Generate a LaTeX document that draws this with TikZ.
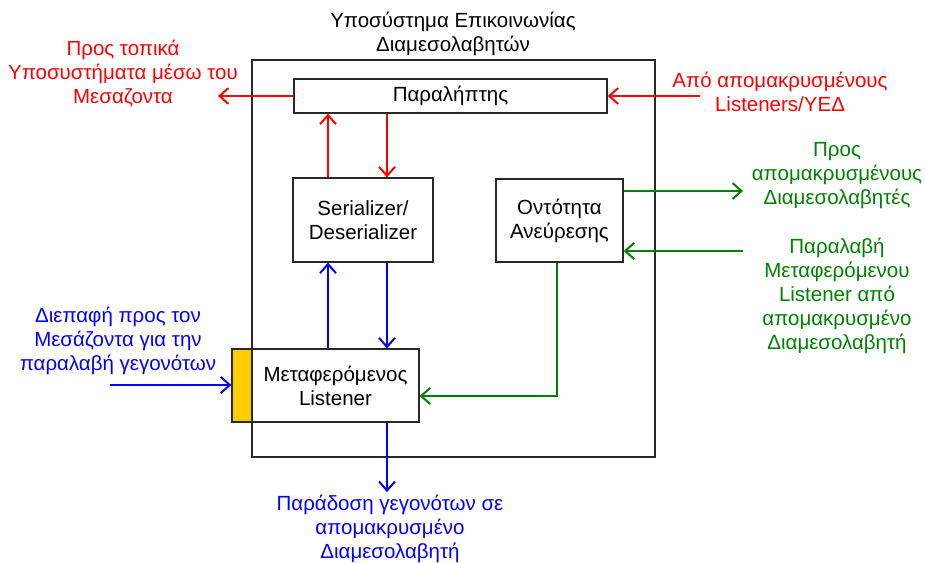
\documentclass[tikz,border=0pt]{standalone}
\usepackage{fontspec}
\setmainfont{Liberation Sans}
\usetikzlibrary{arrows.meta,calc}

\definecolor{rred}{RGB}{255,0,0}
\definecolor{bblue}{RGB}{0,0,255}
\definecolor{ggreen}{RGB}{0,128,0}
\definecolor{yel}{RGB}{255,204,0}
\definecolor{edge}{RGB}{40,40,40}

\tikzset{
  x=1pt, y=-1pt,
  every node/.style={font=\fontsize{20.5}{24}\selectfont, inner sep=0pt},
  block/.style={draw=edge, line width=1.3pt, fill=white, align=center},
  lbl/.style={align=center},
  flow/.style={line width=2pt, -{Straight Barb[length=9pt,width=16pt,line width=2pt]}},
}

\begin{document}
\begin{tikzpicture}
  \useasboundingbox (0,0) rectangle (925,562);

  % outer subsystem frame and its title
  \node[draw=edge, line width=1.3pt, minimum width=403pt, minimum height=397pt] (frame) at (453.5,258.5) {};
  \node[lbl] (title) at (453,34) {Υποσύστημα Επικοινωνίας\\Διαμεσολαβητών};

  % inner components
  \node[block, minimum width=313pt, minimum height=34pt] (recv) at (450.5,96) {Παραλήπτης};
  \node[block, minimum width=140pt, minimum height=84pt] (ser) at (363,220) {Serializer/\\Deserializer};
  \node[block, minimum width=127pt, minimum height=83pt] (disc) at (559.5,220.5) {Οντότητα\\Ανεύρεσης};
  \node[block, minimum width=167pt, minimum height=73pt] (mov) at (335.5,385.5) {Μεταφερόμενος\\Listener};
  \node[draw=edge, line width=1.3pt, fill=yel, minimum width=20pt, minimum height=73pt] (port) at (242,385.5) {};

  % external labels
  \node[lbl, text=rred] (tolocal) at (123,74) {Προς τοπικά\\Υποσυστήματα μέσω του\\Μεσαζοντα};
  \node[lbl, text=rred] (fromremote) at (780,92) {Από απομακρυσμένους\\Listeners/ΥΕΔ};
  \node[lbl, text=ggreen] (toremote) at (837,176) {Προς\\απομακρυσμένους\\Διαμεσολαβητές};
  \node[lbl, text=ggreen] (receive) at (837,296) {Παραλαβή\\Μεταφερόμενου\\Listener από\\απομακρυσμένο\\Διαμεσολαβητή};
  \node[lbl, text=bblue] (iface) at (118,341) {Διεπαφή προς τον\\Μεσάζοντα για την\\παραλαβή γεγονότων};
  \node[lbl, text=bblue] (deliver) at (390,529) {Παράδοση γεγονότων σε\\απομακρυσμένο\\Διαμεσολαβητή};

  % free connector ends
  \coordinate (lout) at (218,96);
  \coordinate (rin) at (700,96);
  \coordinate (gout) at (743,191);
  \coordinate (gin) at (743,251);
  \coordinate (bin) at (110,385);
  \coordinate (bout) at (387,492);

  % red: receiver traffic
  \draw[flow, rred] (recv.west) -- (lout);
  \draw[flow, rred] (rin) -- (recv.east);
  \draw[flow, rred] (ser.north -| 328,0) -- (recv.south -| 328,0);
  \draw[flow, rred] (recv.south -| 387,0) -- (ser.north -| 387,0);

  % blue: serializer and transferred listener
  \draw[flow, bblue] (mov.north -| 328,0) -- (ser.south -| 328,0);
  \draw[flow, bblue] (ser.south -| 387,0) -- (mov.north -| 387,0);
  \draw[flow, bblue] (mov.south -| 387,0) -- (bout);
  \draw[flow, bblue] (bin) -- (port.west |- bin);

  % green: discovery entity
  \draw[flow, ggreen] (disc.east |- gout) -- (gout);
  \draw[flow, ggreen] (gin) -- (disc.east |- gin);
  \draw[flow, ggreen] (disc.south -| 557,0) |- ($(mov.east)+(0,10.5)$);
\end{tikzpicture}
\end{document}
